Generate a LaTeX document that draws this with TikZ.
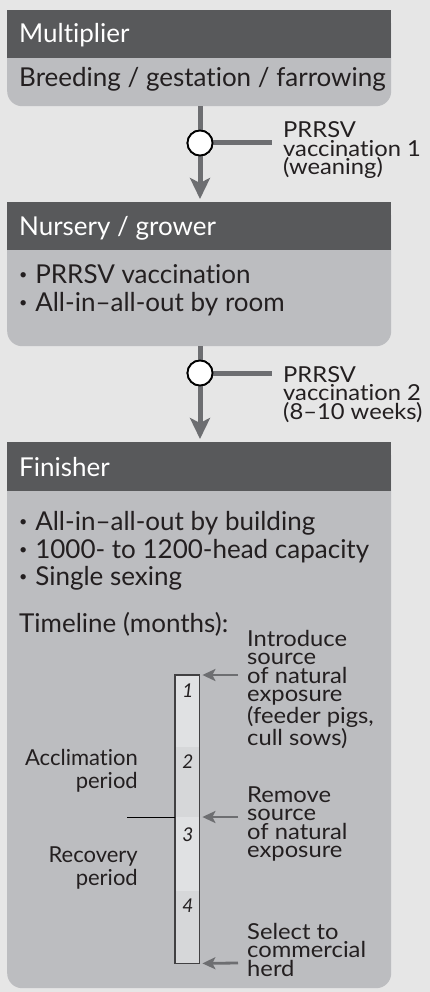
\documentclass[tikz,border=0pt]{standalone}
\usepackage{fontspec}
\usepackage{graphicx}
\setmainfont{Lato}[Ligatures=NoCommon]
\newfontfamily\lblfont[FakeStretch=1.08,Ligatures=NoCommon]{Lato}
\usetikzlibrary{arrows.meta}
\definecolor{bg}{HTML}{E6E6E6}
\definecolor{hdr}{HTML}{58595B}
\definecolor{bodyc}{HTML}{BCBDC0}
\definecolor{conn}{HTML}{6D6E71}
\definecolor{txt}{HTML}{231F20}
\definecolor{segA}{HTML}{E0E1E3}
\definecolor{segB}{HTML}{D6D7D9}
\definecolor{barline}{HTML}{414042}
\newcommand\bul{\raisebox{0.3ex}{\scalebox{0.55}{•}}\hspace{0.3em}}
\begin{document}
\begin{tikzpicture}[x=1pt,y=-1pt,
  boxbody/.style={fill=bodyc, rounded corners=15pt, minimum width=384pt, anchor=north west, inner sep=0pt, draw=none},
  boxhead/.style={fill=hdr, minimum width=384pt, minimum height=48pt, anchor=north west, inner sep=0pt},
  headtxt/.style={text=white, font=\fontsize{26}{28}\selectfont, anchor=base west, inner sep=0pt},
  maintxt/.style={text=txt, font=\fontsize{26}{28}\selectfont, anchor=base west, inner sep=0pt},
  lbl/.style={text=txt, font=\lblfont\fontsize{22}{18.5}\selectfont, anchor=base west, inner sep=0pt, align=left},
  lbll/.style={text=txt, font=\fontsize{22}{22.5}\selectfont, anchor=base east, inner sep=0pt, align=right},
  num/.style={text=txt, font=\fontsize{19}{20}\selectfont\itshape, anchor=base, inner sep=0pt},
  flow/.style={draw=conn, line width=5pt},
  flowarrow/.style={flow, -{Stealth[length=21pt,width=20pt,inset=5pt]}},
  vacc/.style={circle, draw=black, fill=white, line width=1.8pt, minimum size=25pt, inner sep=0pt},
  tarrow/.style={draw=conn, line width=2.8pt, -{Stealth[length=13pt,width=12pt,inset=3pt]}},
  seg/.style={draw=none, minimum width=24pt, anchor=north west, inner sep=0pt}
]
\fill[bg] (0,0) rectangle (430,992);
\useasboundingbox (0,0) rectangle (430,992);

% Boxes
\node[boxbody, minimum height=96pt] (mult) at (7,10) {};
\node[boxhead] (multh) at (7,10) {};
\node[boxbody, minimum height=144pt] (nurs) at (7,202) {};
\node[boxhead] (nursh) at (7,202) {};
\node[boxbody, minimum height=546pt] (fin) at (7,442) {};
\node[boxhead, minimum height=49pt] (finh) at (7,442) {};

% Box texts
\node[headtxt] (t1) at (19,43) {Multiplier};
\node[maintxt] (t2) at (19,87) {Breeding / gestation / farrowing};
\node[headtxt] (t3) at (19,236) {Nursery / grower};
\node[maintxt] (t4) at (19,283) {\bul PRRSV vaccination};
\node[maintxt] (t5) at (19,311) {\bul All-in–all-out by room};
\node[headtxt] (t6) at (19,476) {Finisher};
\node[maintxt] (t7) at (19,530) {\bul All-in–all-out by building};
\node[maintxt] (t8) at (19,558) {\bul 1000- to 1200-head capacity};
\node[maintxt] (t9) at (19,585) {\bul Single sexing};
\node[maintxt] (t10) at (19,632) {Timeline (months):};

% Flow connectors
\node[vacc] (c1) at (200,143) {};
\node[vacc] (c2) at (200,373) {};
\coordinate (e1) at (272,143);
\coordinate (e2) at (272,373);
\draw[flow] (c1 |- mult.south) -- (c1.north);
\draw[flowarrow] (c1.south) -- ([yshift=3pt]c1 |- nurs.north);
\draw[flow] (c1.east) -- (e1);
\draw[flow] (c2 |- nurs.south) -- (c2.north);
\draw[flowarrow] (c2.south) -- ([yshift=3pt]c2 |- fin.north);
\draw[flow] (c2.east) -- (e2);
\node[vacc] at (c1) {};
\node[vacc] at (c2) {};

\node[lbl] (v1) at (283,175) {PRRSV\\vaccination 1\\(weaning)};
\node[lbl] (v2) at (283,419) {PRRSV\\vaccination 2\\(8–10 weeks)};

% Timeline
\node[seg, fill=segA, minimum height=72pt] (s1) at (175,675) {};
\node[seg, fill=segB, minimum height=70pt] (s2) at (175,747) {};
\node[seg, fill=segA, minimum height=74pt] (s3) at (175,817) {};
\node[seg, fill=segB, minimum height=72pt] (s4) at (175,891) {};
\draw[barline, line width=1.5pt] (s1.north west) rectangle (s4.south east);
\node[num] (n1) at (188,697) {1};
\node[num] (n2) at (188,768) {2};
\node[num] (n3) at (188,841) {3};
\node[num] (n4) at (188,912) {4};

\coordinate (a1) at (238,675);
\coordinate (a2) at (238,817);
\coordinate (a3) at (238,963);
\draw[tarrow] (a1) -- ([xshift=3pt]s1.north east);
\draw[tarrow] (a2) -- ([xshift=3pt]s3.north east);
\draw[tarrow] (a3) -- ([xshift=3pt]s4.south east);

\node[lbl] (r1) at (247,745.5) {Introduce\\source\\of natural\\exposure\\(feeder pigs,\\cull sows)};
\node[lbl] (r2) at (247,857.5) {Remove\\source\\of natural\\exposure};
\node[lbl] (r3) at (247,976) {Select to\\commercial\\herd};

\node[lbll] (l1) at (138,788) {Acclimation\\period};
\node[lbll] (l2) at (138,885) {Recovery\\period};
\coordinate (m1) at (127,817);
\draw[black, line width=0.9pt] (m1) -- (s3.north west);
\end{tikzpicture}
\end{document}
